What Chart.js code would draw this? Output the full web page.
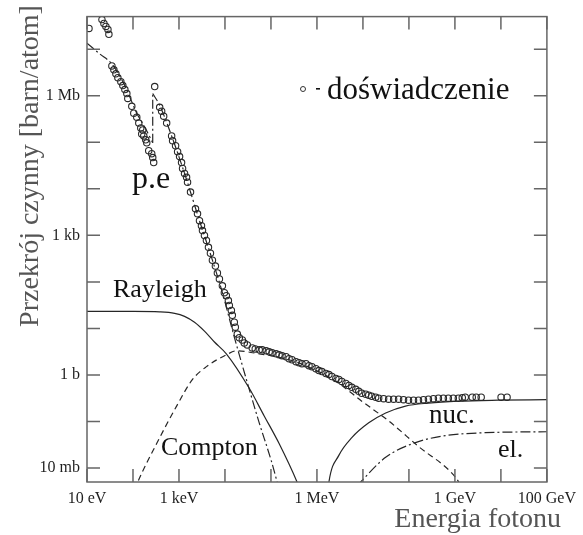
<!DOCTYPE html>
<html lang="pl">
<head>
  <meta charset="UTF-8">
  <title>Przekrój czynny na oddziaływanie fotonów</title>
  <script src="https://cdn.jsdelivr.net/npm/chart.js"></script>
  <style>
    body {
      margin: 0;
      background: #fff;
    }
    #wrap {
      position: relative;
      width: 583px;
      height: 535px;
    }
  </style>
</head>
<body>
  <div id="wrap"><canvas id="xsec"></canvas></div>

  <script>
    // all values are log10: energy in eV, cross section in barn/atom

    // measured total cross section
    const expLogE = [
      1.043, 1.325, 1.368, 1.411, 1.455, 1.476,
      1.541, 1.584, 1.628, 1.671, 1.736, 1.779, 1.823, 1.866, 1.887, 1.974,
      2.017, 2.082, 2.126, 2.169, 2.212, 2.190, 2.234, 2.277, 2.299, 2.342,
      2.407, 2.429, 2.450,
      2.472, 2.580, 2.623, 2.667, 2.732, 2.840, 2.861, 2.926, 2.970, 3.013,
      3.056, 3.078, 3.121, 3.165, 3.186, 3.251, 3.359, 3.403, 3.446, 3.489,
      3.511, 3.554, 3.597, 3.641, 3.684, 3.727, 3.792, 3.835, 3.879, 3.944,
      3.987, 4.030, 4.074, 4.095, 4.139, 4.160, 4.203, 4.225, 4.268, 4.312, 4.377,
      4.420, 4.485, 4.593, 4.658, 4.745, 4.810, 4.896, 4.961, 5.026, 5.113,
      5.177, 5.242, 5.329, 5.394, 5.459, 5.545, 5.610, 5.675, 5.762, 5.827,
      5.892, 5.978, 6.043, 6.108, 6.195, 6.260, 6.325, 6.411, 6.476, 6.541,
      6.628, 6.693, 6.758, 6.844, 6.909, 6.974, 7.061, 7.126, 7.190, 7.277,
      7.342, 7.450, 7.558, 7.667, 7.775, 7.883, 7.991, 8.100, 8.208, 8.316,
      8.424, 8.532, 8.641, 8.749, 8.857, 8.965, 9.074, 9.160, 9.225, 9.377,
      9.463, 9.571, 10.004, 10.134
    ];
    const expLogSigma = [
      7.446, 7.636, 7.552, 7.488, 7.425, 7.319,
      6.641, 6.556, 6.471, 6.386, 6.302, 6.217, 6.132, 6.047, 5.942, 5.772,
      5.624, 5.539, 5.412, 5.306, 5.264, 5.179, 5.136, 5.052, 4.988, 4.819,
      4.755, 4.670, 4.564,
      6.196, 5.751, 5.666, 5.560, 5.412, 5.136, 5.031, 4.925, 4.797, 4.692,
      4.564, 4.437, 4.331, 4.247, 4.141, 3.929, 3.569, 3.463, 3.314, 3.208,
      3.103, 2.997, 2.891, 2.742, 2.615, 2.467, 2.340, 2.192, 2.064, 1.916,
      1.768, 1.704, 1.598, 1.492, 1.386, 1.281, 1.132, 1.026, 0.878, 0.800, 0.751,
      0.687, 0.645, 0.581, 0.560, 0.539, 0.539, 0.518, 0.497, 0.475, 0.454,
      0.433, 0.412, 0.391, 0.348, 0.327, 0.285, 0.264, 0.242, 0.242, 0.200,
      0.179, 0.136, 0.094, 0.073, 0.031, 0.009, -0.033, -0.076, -0.097, -0.139,
      -0.181, -0.224, -0.266, -0.308, -0.351, -0.393, -0.414, -0.436, -0.457, -0.478,
      -0.499, -0.510, -0.520, -0.520, -0.520, -0.531, -0.542, -0.542, -0.542, -0.531,
      -0.520, -0.510, -0.499, -0.499, -0.499, -0.499, -0.499, -0.489, -0.478, -0.478,
      -0.478, -0.478, -0.478, -0.478
    ];

    // photoelectric effect, below and above the K edge
    const peLowLogE = [1.0, 1.281, 1.541, 1.823, 2.082, 2.255, 2.429];
    const peLowLogSigma = [7.128, 6.895, 6.683, 6.217, 5.624, 5.327, 4.988];
    const peHighLogE = [2.429, 2.580, 2.840, 3.121, 3.446, 3.727, 3.944, 4.203, 4.528, 4.745, 5.004, 5.134, 5.177];
    const peHighLogSigma = [6.047, 5.793, 5.136, 4.331, 3.314, 2.467, 1.768, 0.814, -0.308, -1.029, -1.834, -2.300, -2.469];

    // coherent (Rayleigh) scattering
    const rayLogE = [1.0, 2.017, 2.580, 2.905, 3.121, 3.338, 3.554, 3.771, 4.030, 4.528, 4.853, 5.177, 5.567, 5.632];
    const rayLogSigma = [1.365, 1.365, 1.355, 1.323, 1.259, 1.132, 0.941, 0.708, 0.454, -0.287, -0.881, -1.474, -2.300, -2.469];

    // incoherent (Compton) scattering
    const comptonLogE = [2.039, 2.104, 2.515, 2.948, 3.294, 3.597, 4.030, 4.247, 4.745, 5.394, 6.0, 6.476, 6.974, 7.558, 8.208, 9.009, 9.182];
    const comptonLogSigma = [-2.469, -2.300, -1.474, -0.669, -0.097, 0.179, 0.433, 0.518, 0.454, 0.327, 0.090, -0.181, -0.563, -0.987, -1.537, -2.194, -2.469];

    // pair production in the nuclear field
    const nucLogE = [6.238, 6.260, 6.476, 6.758, 7.126, 7.494, 7.926, 8.424, 9.074, 9.939, 11.0];
    const nucLogSigma = [-2.512, -2.300, -1.728, -1.347, -1.029, -0.817, -0.669, -0.605, -0.563, -0.542, -0.531];

    // pair production in the electron field
    const elLogE = [6.866, 7.494, 8.143, 8.792, 9.658, 11.0];
    const elLogSigma = [-2.385, -1.770, -1.453, -1.304, -1.241, -1.220];

    // axes: decades and the few labelled ones
    const xLogMin = 1, xLogMax = 11;
    const yLogMin = -2.3, yLogMax = 7.7;
    const xLabelExp = [1, 3, 6, 9, 11];
    const xLabelText = ['10 eV', '1 keV', '1 MeV', '1 GeV', '100 GeV'];
    const yLabelExp = [6, 3, 0, -2];
    const yLabelText = ['1 Mb', '1 kb', '1 b', '10 mb'];

    const serif = '"Liberation Serif", "Times New Roman", serif';
    const ink = '#262626';

    const toPoints = (le, ls) => le.map((e, i) => ({ x: 10 ** e, y: 10 ** ls[i] }));

    function curve(le, ls, dash, extra) {
      return Object.assign({
        data: toPoints(le, ls),
        showLine: true,
        pointRadius: 0,
        borderColor: ink,
        borderWidth: 1.2,
        borderDash: dash,
        cubicInterpolationMode: 'monotone',
        fill: false
      }, extra || {});
    }

    const decades = (lo, hi) => {
      const out = [];
      for (let k = Math.ceil(lo); k <= Math.floor(hi); k++) out.push(k);
      return out;
    };

    const labelFor = (exps, texts) => value => {
      const i = exps.indexOf(Math.round(Math.log10(value)));
      return i >= 0 ? texts[i] : '';
    };

    // frame, inward ticks on all four sides and the text annotations
    const decorations = {
      id: 'decorations',
      afterDatasetsDraw(chart) {
        const { ctx, chartArea: a, scales } = chart;
        const tick = 13;
        ctx.save();
        ctx.strokeStyle = '#666';
        ctx.lineWidth = 1.5;
        ctx.strokeRect(a.left, a.top, a.right - a.left, a.bottom - a.top);
        ctx.beginPath();
        decades(xLogMin, xLogMax).forEach(k => {
          const x = scales.x.getPixelForValue(10 ** k);
          ctx.moveTo(x, a.bottom); ctx.lineTo(x, a.bottom - tick);
          ctx.moveTo(x, a.top); ctx.lineTo(x, a.top + tick);
        });
        decades(yLogMin, yLogMax).forEach(k => {
          const y = scales.y.getPixelForValue(10 ** k);
          ctx.moveTo(a.left, y); ctx.lineTo(a.left + tick, y);
          ctx.moveTo(a.right, y); ctx.lineTo(a.right - tick, y);
        });
        ctx.stroke();

        // axis titles
        ctx.fillStyle = '#555';
        ctx.font = '28px ' + serif;
        ctx.textBaseline = 'alphabetic';
        ctx.textAlign = 'right';
        ctx.fillText('Energia fotonu', 561, 527);
        ctx.save();
        ctx.translate(38, 166);
        ctx.rotate(-Math.PI / 2);
        ctx.textAlign = 'center';
        ctx.fillText('Przekrój czynny [barn/atom]', 0, 0);
        ctx.restore();

        // curve labels
        ctx.fillStyle = '#111';
        ctx.textAlign = 'left';
        const labels = [
          ['p.e', 132, 188, 32],
          ['Rayleigh', 113, 297, 26],
          ['Compton', 161, 455, 26],
          ['nuc.', 429, 423, 27],
          ['el.', 498, 457, 26],
          ['doświadczenie', 327, 99, 31]
        ];
        labels.forEach(([t, x, y, s]) => {
          ctx.font = s + 'px ' + serif;
          ctx.fillText(t, x, y);
        });

        // legend marker for the measured points
        ctx.strokeStyle = '#333';
        ctx.lineWidth = 1;
        ctx.beginPath();
        ctx.arc(303, 89, 2.5, 0, Math.PI * 2);
        ctx.stroke();
        ctx.fillRect(316, 88, 4, 1.6);
        ctx.restore();
      }
    };

    const peLow = toPoints(peLowLogE, peLowLogSigma);
    const peHigh = toPoints(peHighLogE, peHighLogSigma);
    const peDash = [9, 3, 2, 3];

    const chart = new Chart(document.getElementById('xsec'), {
      type: 'scatter',
      data: {
        datasets: [
          curve(rayLogE, rayLogSigma, []),
          curve(comptonLogE, comptonLogSigma, [6, 4]),
          curve(peLowLogE, peLowLogSigma, peDash),
          curve([], [], peDash, { data: [peLow[peLow.length - 1], peHigh[0]], tension: 0, cubicInterpolationMode: 'default' }),
          curve(peHighLogE, peHighLogSigma, peDash),
          curve(nucLogE, nucLogSigma, []),
          curve(elLogE, elLogSigma, [10, 3, 2, 3]),
          {
            label: 'doświadczenie',
            data: toPoints(expLogE, expLogSigma),
            pointStyle: 'circle',
            pointRadius: 3.2,
            pointBorderWidth: 1.1,
            pointBorderColor: '#2a2a2a',
            pointBackgroundColor: 'rgba(255,255,255,0)',
            showLine: false
          }
        ]
      },
      options: {
        responsive: true,
        maintainAspectRatio: false,
        animation: false,
        layout: { padding: { top: 10, right: 34, left: 0, bottom: 0 } },
        plugins: {
          legend: { display: false },
          tooltip: { enabled: false }
        },
        scales: {
          x: {
            type: 'logarithmic',
            min: 10 ** xLogMin,
            max: 10 ** xLogMax,
            grid: { display: false, drawTicks: false },
            border: { display: false },
            afterBuildTicks: s => { s.ticks = decades(xLogMin, xLogMax).map(k => ({ value: 10 ** k })); },
            afterFit: s => { s.height = 53; },
            ticks: {
              autoSkip: false,
              maxRotation: 0,
              padding: 7,
              color: '#1e1e1e',
              font: { family: serif, size: 16 },
              callback: labelFor(xLabelExp, xLabelText)
            }
          },
          y: {
            type: 'logarithmic',
            min: 10 ** yLogMin,
            max: 10 ** yLogMax,
            grid: { display: false, drawTicks: false },
            border: { display: false },
            afterBuildTicks: s => { s.ticks = decades(yLogMin, yLogMax).map(k => ({ value: 10 ** k })); },
            afterFit: s => { s.width = 87; },
            ticks: {
              autoSkip: false,
              padding: 7,
              color: '#1e1e1e',
              font: { family: serif, size: 16 },
              callback: labelFor(yLabelExp, yLabelText)
            }
          }
        }
      },
      plugins: [decorations]
    });
  </script>
</body>
</html>
